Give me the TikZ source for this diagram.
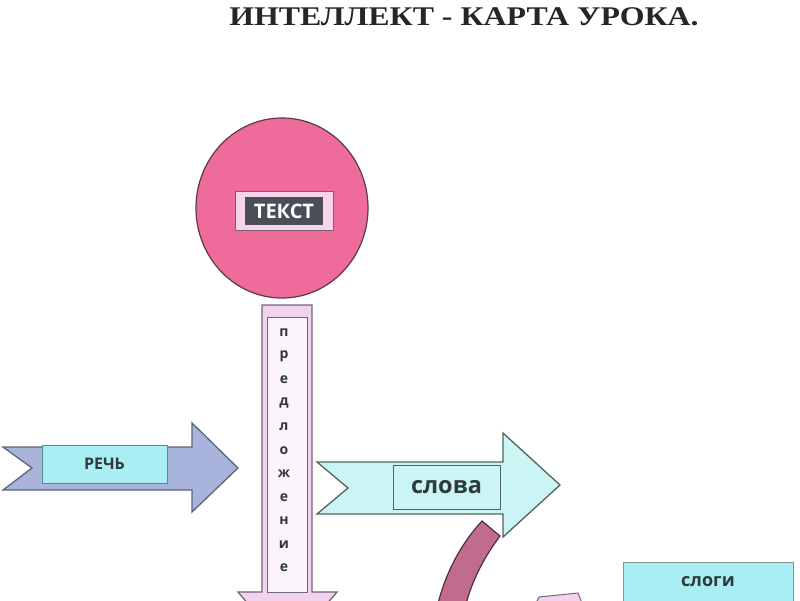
\documentclass[tikz,border=0pt]{standalone}
\usepackage{fontspec}
\usetikzlibrary{shapes.geometric}
\setmainfont{Liberation Serif}
\newfontfamily\lblfont{Open Sans}
\definecolor{titlec}{HTML}{262626}
\definecolor{circfill}{HTML}{EE6B9C}
\definecolor{circline}{HTML}{5A3A48}
\definecolor{tekstouter}{HTML}{F7D4EC}
\definecolor{tekstinner}{HTML}{4A4E57}
\definecolor{barline}{HTML}{6E6878}
\definecolor{barfill}{HTML}{F2D2EC}
\definecolor{barinner}{HTML}{FBF4FA}
\definecolor{rechfill}{HTML}{A8B4DC}
\definecolor{rechline}{HTML}{5E6578}
\definecolor{cyanbox}{HTML}{A9EEF2}
\definecolor{cyanline}{HTML}{5A8A8C}
\definecolor{slovafill}{HTML}{CBF5F5}
\definecolor{slovaline}{HTML}{55625F}
\definecolor{bandfill}{HTML}{C16C8E}
\definecolor{bandline}{HTML}{4A3040}
\definecolor{textdark}{HTML}{2E3A3E}
\tikzset{
  shapeline/.style={line width=1.3pt, line join=miter},
  labelbox/.style={draw=cyanline, line width=0.8pt, inner sep=0pt, font=\lblfont\bfseries, text=textdark},
}
\begin{document}
\begin{tikzpicture}[x=1pt,y=-1pt]
\useasboundingbox (0,0) rectangle (800,600);
\clip (0,0) rectangle (800,600);
\fill[white] (0,0) rectangle (800,600);

% title
\node[font=\bfseries\fontsize{27}{30}\selectfont, text=titlec, inner sep=0pt] (title) at (464,17) {\scalebox{1.18}[1]{ИНТЕЛЛЕКТ - КАРТА УРОКА.}};

% circle with TEKST
\node[ellipse, minimum width=172pt, minimum height=180pt, fill=circfill, draw=circline, line width=1.2pt, inner sep=0pt] (circ) at (282,208) {};
\node[fill=tekstouter, draw=circline!80, line width=0.8pt, minimum width=98pt, minimum height=39pt, inner sep=0pt] (tekstbox) at (284,211) {};
\node[fill=tekstinner, minimum width=78pt, minimum height=28pt, inner sep=0pt, font=\lblfont\bfseries\fontsize{20}{22}\selectfont, text=white] (tekst) at (284,211) {ТЕКСТ};

% vertical arrow "predlozhenie"
\draw[shapeline, fill=barfill, draw=barline] (262,305) -- (312,305) -- (312,592) -- (337,592) -- (287,650) -- (238,592) -- (262,592) -- cycle;
\node[fill=barinner, draw=barline, line width=1pt, minimum width=40pt, minimum height=275pt, inner sep=0pt] (predbox) at (287,454.5) {};
\foreach \ch [count=\i from 0] in {п,р,е,д,л,о,ж,е,н,и,е}{
  \node[font=\lblfont\bfseries\fontsize{14}{14}\selectfont, text=textdark, inner sep=0pt] (pl\i) at (284,{333+23.5*\i}) {\ch};
}

% RECH arrow
\draw[shapeline, fill=rechfill, draw=rechline] (3,447) -- (192,447) -- (192,423) -- (238,468) -- (192,512) -- (192,490) -- (3,490) -- (32,468) -- cycle;
\node[labelbox, fill=cyanbox, minimum width=125pt, minimum height=38pt, font=\lblfont\bfseries\fontsize{16}{18}\selectfont] (rech) at (104.5,464) {РЕЧЬ};

% SLOVA arrow
\draw[shapeline, fill=slovafill, draw=slovaline] (317,462) -- (503,462) -- (503,433) -- (560,485) -- (503,537) -- (503,514) -- (317,514) -- (348,488) -- cycle;
\node[labelbox, fill=slovafill, draw=slovaline, minimum width=107pt, minimum height=44pt, font=\lblfont\bfseries\fontsize{23.5}{25}\selectfont] (slova) at (446.5,487) {слова};

% curved band
\draw[line width=1.2pt, fill=bandfill, draw=bandline] (482,521) .. controls (460,545) and (444,575) .. (436,612) -- (464,612) .. controls (470,585) and (482,560) .. (500,536) -- cycle;

% pink piece at bottom
\draw[line width=1pt, fill=barfill, draw=barline] (536,603) -- (539,597) -- (578,593) -- (582,603) -- cycle;

% SLOGI box
\node[labelbox, fill=cyanbox, draw=slovaline!70, minimum width=170pt, minimum height=48pt, anchor=north west] (slogi) at (623,562) {};
\node[font=\lblfont\bfseries\fontsize{18}{20}\selectfont, text=textdark, inner sep=0pt] (slogit) at (708,582) {слоги};
\end{tikzpicture}
\end{document}
